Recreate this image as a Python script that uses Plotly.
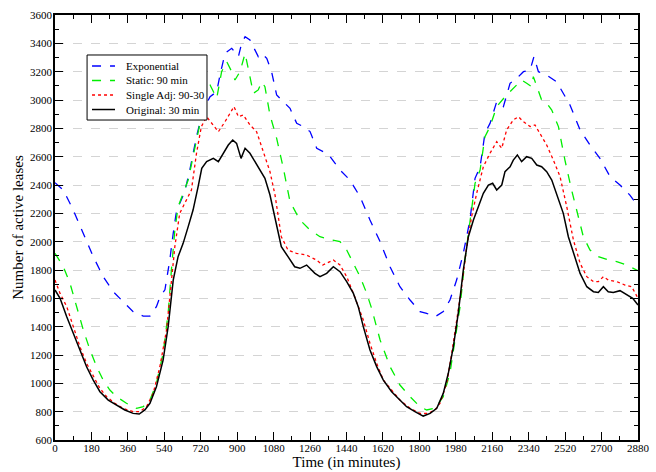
import plotly.graph_objects as go

# Exponential lease policy
exp_t = [0, 41, 90, 140, 189, 238, 288, 337, 386, 436, 469, 501, 519, 543, 567, 584, 601, 616,
         641, 666, 699, 723, 740, 766, 799, 815, 840, 873, 906, 922, 939, 963, 988, 1004, 1021,
         1046, 1070, 1095, 1128, 1161, 1194, 1227, 1260, 1293, 1326, 1359, 1408, 1457, 1507,
         1556, 1606, 1655, 1704, 1754, 1803, 1836, 1877, 1918, 1951, 1984, 2017, 2050, 2075,
         2100, 2124, 2149, 2182, 2215, 2248, 2281, 2314, 2347, 2366, 2388, 2429, 2478, 2544,
         2594, 2643, 2692, 2742, 2791, 2840, 2880]
exp_v = [2416, 2365, 2224, 2059, 1894, 1753, 1647, 1576, 1506, 1475, 1475, 1541, 1612, 1660,
         1870, 2059, 2224, 2270, 2353, 2506, 2741, 2882, 2953, 3023, 3059, 3176, 3330, 3365,
         3306, 3400, 3447, 3424, 3353, 3306, 3330, 3294, 3200, 3035, 2988, 2941, 2835, 2812,
         2777, 2659, 2635, 2600, 2506, 2435, 2317, 2153, 2000, 1823, 1682, 1588, 1506, 1494,
         1470, 1506, 1588, 1729, 1918, 2153, 2447, 2529, 2765, 2835, 2988, 2953, 3118, 3153,
         3200, 3212, 3306, 3200, 3176, 3129, 2965, 2788, 2682, 2588, 2459, 2400, 2329, 2250]

# Static lease of 90 minutes
sta_t = [0, 41, 74, 107, 140, 173, 206, 238, 271, 304, 353, 403, 436, 469, 501, 534, 559, 575,
         592, 608, 633, 658, 682, 707, 723, 740, 766, 799, 823, 848, 873, 889, 914, 939, 955,
         980, 1004, 1021, 1037, 1062, 1095, 1128, 1161, 1210, 1260, 1309, 1367, 1408, 1441,
         1474, 1507, 1540, 1564, 1606, 1655, 1704, 1754, 1803, 1836, 1877, 1918, 1951, 1976,
         2001, 2025, 2050, 2075, 2100, 2124, 2149, 2182, 2223, 2264, 2305, 2330, 2355, 2363,
         2380, 2404, 2429, 2454, 2487, 2519, 2552, 2585, 2610, 2643, 2684, 2733, 2775, 2824,
         2880]
sta_v = [1918, 1823, 1706, 1541, 1376, 1235, 1117, 1023, 953, 906, 859, 823, 835, 882, 1000,
         1211, 1494, 1800, 2082, 2247, 2341, 2435, 2600, 2788, 2882, 3094, 3106, 3012, 3200,
         3271, 3200, 3141, 3200, 3329, 3224, 3047, 3071, 3129, 3094, 2894, 2729, 2518, 2282,
         2153, 2082, 2035, 2012, 2000, 1941, 1847, 1753, 1635, 1529, 1306, 1118, 988, 906, 835,
         812, 824, 906, 1071, 1306, 1541, 1871, 2153, 2412, 2506, 2741, 2812, 2953, 3023, 3082,
         3141, 3118, 3094, 3165, 3094, 3000, 2977, 2929, 2812, 2576, 2365, 2176, 2035, 1941,
         1894, 1871, 1859, 1835, 1795]

# Single adjustment 90-30
adj_t = [0, 25, 58, 90, 123, 156, 189, 222, 255, 296, 337, 386, 419, 452, 485, 518, 551, 575,
         592, 616, 649, 674, 699, 723, 749, 774, 807, 840, 864, 884, 906, 930, 963, 996, 1029,
         1062, 1087, 1118, 1151, 1192, 1241, 1291, 1323, 1375, 1408, 1441, 1474, 1498, 1523,
         1556, 1589, 1622, 1663, 1704, 1754, 1803, 1844, 1877, 1902, 1935, 1960, 1984, 2009,
         2034, 2058, 2083, 2116, 2149, 2182, 2207, 2231, 2264, 2289, 2314, 2347, 2371, 2396,
         2429, 2462, 2495, 2528, 2561, 2594, 2627, 2660, 2684, 2709, 2733, 2775, 2816, 2849,
         2880]
adj_v = [1729, 1635, 1541, 1400, 1259, 1141, 1047, 964, 906, 859, 823, 800, 800, 835, 929,
         1117, 1376, 1753, 1965, 2200, 2294, 2365, 2624, 2812, 2882, 2835, 2776, 2847, 2906,
         2953, 2882, 2894, 2824, 2776, 2635, 2494, 2329, 2035, 1941, 1918, 1906, 1871, 1835,
         1871, 1835, 1753, 1635, 1541, 1447, 1282, 1141, 1023, 953, 882, 824, 788, 788, 812,
         859, 1000, 1212, 1447, 1682, 1965, 2176, 2341, 2529, 2624, 2706, 2659, 2788, 2859,
         2882, 2847, 2812, 2824, 2765, 2682, 2576, 2459, 2247, 2012, 1847, 1753, 1718, 1718,
         1753, 1729, 1718, 1694, 1682, 1600]

# Original 30 minute lease
org_t = [0, 25, 58, 90, 123, 156, 189, 222, 263, 304, 345, 386, 416, 444, 469, 501, 534, 559,
         584, 608, 633, 658, 682, 707, 725, 749, 782, 807, 832, 856, 878, 897, 919, 939, 963,
         996, 1037, 1062, 1093, 1118, 1151, 1184, 1210, 1243, 1284, 1309, 1342, 1375, 1408,
         1441, 1474, 1498, 1523, 1556, 1589, 1622, 1663, 1704, 1737, 1778, 1819, 1853, 1886,
         1918, 1943, 1968, 1992, 2017, 2042, 2067, 2091, 2116, 2141, 2162, 2182, 2207, 2223,
         2248, 2264, 2284, 2305, 2330, 2355, 2380, 2404, 2429, 2454, 2487, 2511, 2536, 2561,
         2594, 2627, 2660, 2684, 2709, 2733, 2758, 2791, 2824, 2854, 2880]
org_v = [1659, 1600, 1470, 1353, 1235, 1117, 1023, 941, 882, 847, 812, 788, 783, 812, 859,
         976, 1164, 1400, 1729, 1894, 1988, 2106, 2223, 2388, 2518, 2565, 2588, 2565, 2624,
         2682, 2718, 2694, 2588, 2659, 2624, 2541, 2447, 2329, 2129, 1965, 1894, 1823, 1812,
         1835, 1776, 1753, 1776, 1823, 1788, 1718, 1635, 1541, 1400, 1235, 1118, 1023, 941,
         882, 835, 800, 769, 788, 824, 929, 1071, 1259, 1494, 1800, 2035, 2153, 2247, 2341,
         2400, 2412, 2365, 2400, 2494, 2529, 2576, 2612, 2565, 2600, 2588, 2541, 2529, 2494,
         2435, 2294, 2200, 2035, 1918, 1776, 1682, 1647, 1641, 1682, 1647, 1641, 1654, 1624,
         1600, 1553]

x_ticks = list(range(0, 2881, 180))
y_ticks = list(range(600, 3601, 200))

font_family = "Times New Roman, Liberation Serif, DejaVu Serif, serif"

series = [
    ("Exponential", exp_t, exp_v, dict(color="#0000ff", width=1.3, dash="dash")),
    ("Static: 90 min", sta_t, sta_v, dict(color="#00ee00", width=1.3, dash="dash")),
    ("Single Adj: 90-30", adj_t, adj_v, dict(color="#ff0000", width=1.3, dash="dot")),
    ("Original: 30 min", org_t, org_v, dict(color="#000000", width=1.5, dash="solid")),
]

fig = go.Figure()
for name, t, v, style in series:
    fig.add_trace(go.Scatter(x=t, y=v, mode="lines", name=name, line=style, showlegend=False))

# Compact boxed key in the upper-left corner of the plot area
box = dict(x0=0.055, x1=0.2607, y0=0.7529, y1=0.9059)
row_y = [0.880, 0.8459, 0.8118, 0.7776]
shapes = [dict(type="rect", xref="paper", yref="paper", **box,
               fillcolor="white", line=dict(color="black", width=1), layer="above")]
annotations = []
for (name, _, _, style), ry in zip(series, row_y):
    shapes.append(dict(type="line", xref="paper", yref="paper", x0=0.0635, x1=0.1029,
                       y0=ry, y1=ry, layer="above",
                       line=dict(color=style["color"], width=style["width"],
                                 dash=style["dash"])))
    annotations.append(dict(xref="paper", yref="paper", x=0.1184, y=ry, text=name,
                            showarrow=False, xanchor="left", yanchor="middle",
                            font=dict(family=font_family, size=11, color="black")))

axis_common = dict(
    showline=True, linecolor="black", linewidth=1.5, mirror="allticks",
    ticks="inside", ticklen=8, tickwidth=1, tickcolor="black",
    tickfont=dict(family=font_family, size=11, color="black"),
    zeroline=False, automargin=False,
)

fig.update_xaxes(
    range=[0, 2880], tickvals=x_ticks, showgrid=False, ticklabelstandoff=-3,
    title=dict(text="Time (in minutes)", font=dict(family=font_family, size=15, color="black"),
               standoff=4),
    minor=dict(ticks="inside", ticklen=4, tickwidth=1, tickcolor="black", dtick=90, tick0=0,
               showgrid=False),
    **axis_common,
)
fig.update_yaxes(
    range=[600, 3600], tickvals=y_ticks, showgrid=True, gridcolor="#d4d4d4",
    griddash="dash", gridwidth=1, ticklabelstandoff=-1,
    title=dict(text="Number of active leases",
               font=dict(family=font_family, size=15, color="black"), standoff=3),
    minor=dict(ticks="inside", ticklen=4, tickwidth=1, tickcolor="black", dtick=100,
               tick0=600, showgrid=False),
    **axis_common,
)

fig.update_layout(
    width=656, height=472,
    margin=dict(l=55, r=18, t=15, b=32),
    plot_bgcolor="white", paper_bgcolor="white",
    font=dict(family=font_family, color="black"),
    showlegend=False,
    shapes=shapes,
    annotations=annotations,
)

fig.write_html("out.html")
